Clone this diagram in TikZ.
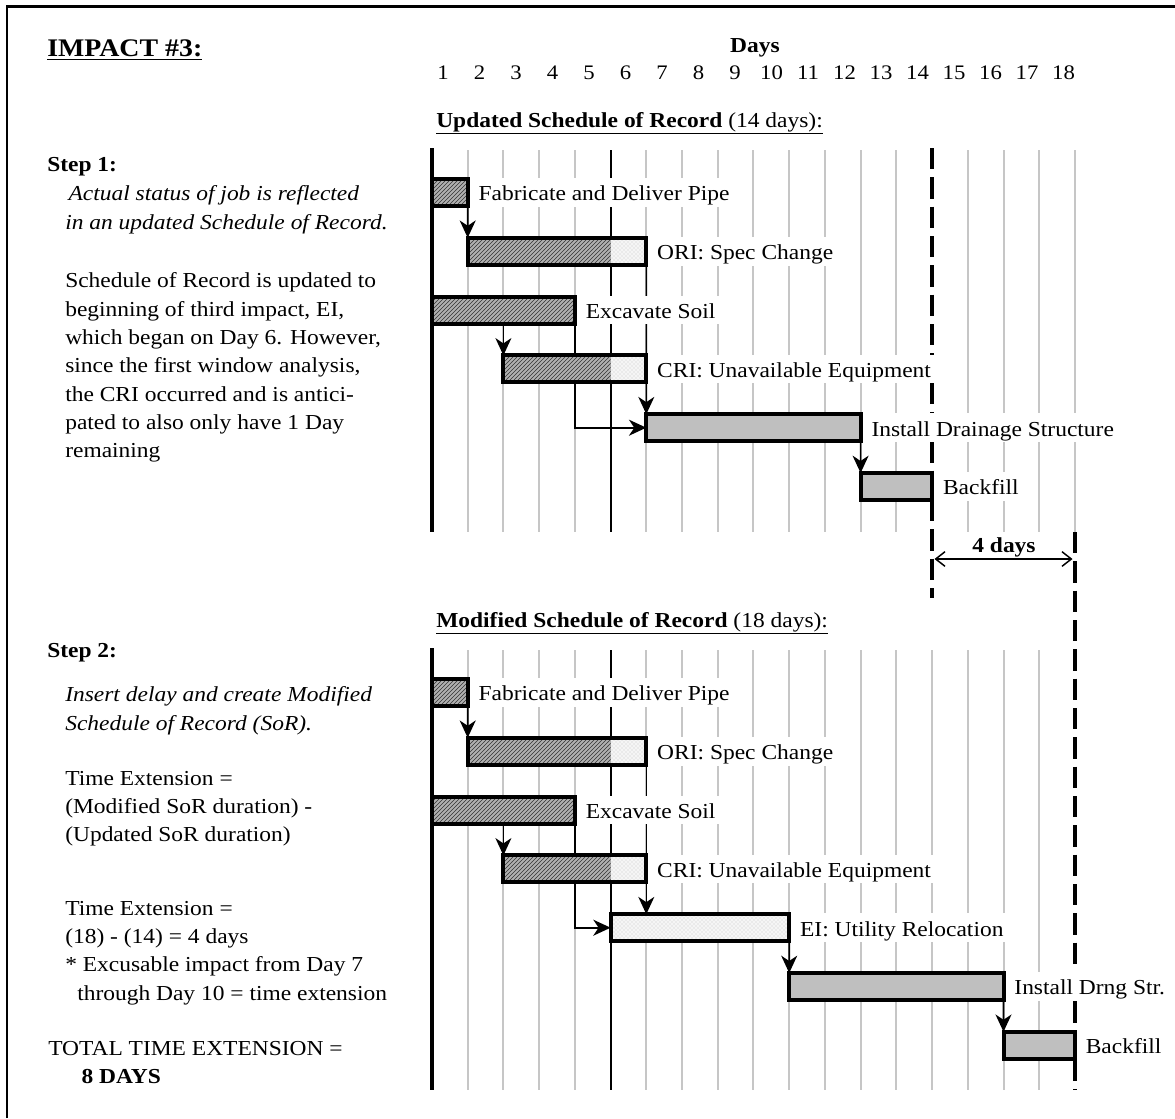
\documentclass[tikz,border=0pt]{standalone}
\usepackage{fontspec}
\setmainfont[FakeStretch=1.1]{Liberation Serif}
\usetikzlibrary{arrows.meta,patterns,positioning}

\pgfdeclarelayer{grid}
\pgfdeclarelayer{links}
\pgfsetlayers{grid,links,main}

\newcommand\bodyfont{\fontsize{16}{21.25}\selectfont}
% stacked lines whose reference point is the first baseline
\newcommand\block[1]{\begin{tabular}[t]{@{}l@{}}#1\end{tabular}}
\renewcommand\arraystretch{1}

% one schedule bar: name, start x, end x, row y, fill style
\newcommand\taskbar[5]{%
  \node[bar,#5,minimum width={0.75pt*(#3-#2)}] (#1) at ({(#2+#3)/2},#4) {};}

\tikzset{
  bar/.style={draw, line width=3pt, minimum height=20.25pt, inner sep=0pt, outer sep=0pt},
  hatchfill/.style={preaction={fill=gray!62}, pattern=north east lines, pattern color=black!80},
  dotfill/.style={preaction={fill=gray!8}, pattern=crosshatch dots, pattern color=gray!45},
  greyfill/.style={fill=gray!50},
  nofill/.style={},
  lbl/.style={fill=white, font=\bodyfont, inner xsep=6pt, inner ysep=0pt,
    text height=17pt, text depth=4.5pt, anchor=west},
  txt/.style={font=\bodyfont, inner sep=0pt, anchor=base west},
  gridline/.style={gray!45, line width=1.5pt},
  dayline/.style={black, line width=1.4pt},
  axis/.style={black, line width=3pt},
  cutoff/.style={black, line width=3pt, dash pattern=on 16pt off 6pt},
  link/.style={line width=1.2pt, -{Stealth[length=13pt,width=12pt,inset=4pt]}},
  span/.style={line width=1.1pt, {Straight Barb[length=7pt,width=11pt]}-{Straight Barb[length=7pt,width=11pt]}},
}

\begin{document}
\begin{tikzpicture}[x=0.75pt,y=-0.75pt]
\useasboundingbox (0,0) rectangle (1175,1118);

% frame
\draw[line width=1.6pt] (7,1118) -- (7,6.5) -- (1175,6.5);

% ---------- headings ----------
\node[txt, font=\fontsize{19}{22}\selectfont\bfseries] (title) at (47,56.7) {\underline{IMPACT \#3:}};
\node[txt, font=\fontsize{16}{20}\selectfont\bfseries, anchor=base] (days) at (755,52) {Days};
\foreach \k in {1,...,18}
  \node[txt, font=\fontsize{15.5}{18}\selectfont, anchor=base] (n\k) at ({443+36.5*(\k-1)},79) {\k};
\node[txt] (updhead) at (436,127) {\underline{\textbf{Updated Schedule of Record} (14 days):}};
\node[txt] (modhead) at (436,627) {\underline{\textbf{Modified Schedule of Record} (18 days):}};

% ---------- explanatory text ----------
\node[txt, font=\bodyfont\bfseries] (step1) at (47,171.7) {Step 1:};
\node[txt, font=\fontsize{16}{21.75}\selectfont\itshape] (step1a) at (65,200)
  {\block{\hspace*{2.5pt}Actual status of job is reflected\\in an updated Schedule of Record.}};
\node[txt] (step1b) at (65,287.7)
  {\block{Schedule of Record is updated to\\beginning of third impact, EI,\\which began on Day 6. However,\\since the first window analysis,\\the CRI occurred and is antici-\\pated to also only have 1 Day\\remaining}};

\node[txt, font=\bodyfont\bfseries] (step2) at (47,657) {Step 2:};
\node[txt, font=\fontsize{16}{21.75}\selectfont\itshape] (step2a) at (65,701.7)
  {\block{Insert delay and create Modified\\Schedule of Record (SoR).}};
\node[txt] (step2b) at (65,785)
  {\block{Time Extension =\\(Modified SoR duration) -\\(Updated SoR duration)}};
\node[txt] (step2c) at (65,915)
  {\block{Time Extension =\\(18) - (14) = 4 days\\{*} Excusable impact from Day 7\\\hspace*{9pt}through Day 10 = time extension}};
\node[txt] (total) at (48,1055)
  {\block{TOTAL TIME EXTENSION =\\\hspace*{25pt}\textbf{8 DAYS}}};

% ---------- day grid ----------
\begin{pgfonlayer}{grid}
  \foreach \k in {2,3,4,5,7,8,9,10,11,12,13,14,16,17,18,19}
    \draw[gridline] ({432+35.72*(\k-1)},150) -- ({432+35.72*(\k-1)},532);
  \foreach \k in {2,3,4,5,7,8,9,10,11,12,13,14,15,16,17,18}
    \draw[gridline] ({432+35.72*(\k-1)},650) -- ({432+35.72*(\k-1)},1090);
  \draw[dayline] (610.6,150) -- (610.6,532);
  \draw[dayline] (610.6,650) -- (610.6,1090);
  \draw[axis] (432,148) -- (432,532);
  \draw[axis] (432,648) -- (432,1090);
  \draw[cutoff] (932.1,148) -- (932.1,598);
  \draw[cutoff] (1074.9,532) -- (1074.9,1090);
\end{pgfonlayer}

% ---------- updated schedule of record ----------
\taskbar{fab}{432}{467.7}{192.5}{hatchfill}
\fill[hatchfill] (467.7,238.3) rectangle (610.6,264.3);
\fill[dotfill] (610.6,238.3) rectangle (646.3,264.3);
\taskbar{ori}{467.7}{646.3}{251.3}{nofill}
\taskbar{exc}{432}{574.9}{310.1}{hatchfill}
\fill[hatchfill] (503.4,355.9) rectangle (610.6,381.9);
\fill[dotfill] (610.6,355.9) rectangle (646.3,381.9);
\taskbar{cri}{503.4}{646.3}{368.9}{nofill}
\taskbar{ids}{646.3}{860.6}{427.7}{greyfill}
\taskbar{bf}{860.6}{932.1}{486.5}{greyfill}

\node[lbl, right=2pt of fab] (fabL) {Fabricate and Deliver Pipe};
\node[lbl, right=2pt of ori] (oriL) {ORI: Spec Change};
\node[lbl, right=2pt of exc] (excL) {Excavate Soil};
\node[lbl, right=2pt of cri] (criL) {CRI: Unavailable Equipment};
\node[lbl, right=2pt of ids] (idsL) {Install Drainage Structure};
\node[lbl, right=2pt of bf] (bfL) {Backfill};

\begin{pgfonlayer}{links}
  \draw[link] (fab.south east) -- (ori.north west);
  \draw[link] (exc.south -| cri.west) -- (cri.north west);
  \draw[link] (ori.south east) -- (ids.north west);
  \draw[link] (exc.south east) |- (ids.west);
  \draw[link] (ids.south east) -- (bf.north west);
\end{pgfonlayer}

% ---------- modified schedule of record ----------
\taskbar{fabm}{432}{467.7}{692.5}{hatchfill}
\fill[hatchfill] (467.7,738.3) rectangle (610.6,764.3);
\fill[dotfill] (610.6,738.3) rectangle (646.3,764.3);
\taskbar{orim}{467.7}{646.3}{751.3}{nofill}
\taskbar{excm}{432}{574.9}{810.1}{hatchfill}
\fill[hatchfill] (503.4,855.9) rectangle (610.6,881.9);
\fill[dotfill] (610.6,855.9) rectangle (646.3,881.9);
\taskbar{crim}{503.4}{646.3}{868.9}{nofill}
\taskbar{eim}{610.6}{789.2}{927.7}{dotfill}
\taskbar{idsm}{789.2}{1003.5}{986.5}{greyfill}
\taskbar{bfm}{1003.5}{1074.9}{1045.3}{greyfill}

\node[lbl, right=2pt of fabm] (fabmL) {Fabricate and Deliver Pipe};
\node[lbl, right=2pt of orim] (orimL) {ORI: Spec Change};
\node[lbl, right=2pt of excm] (excmL) {Excavate Soil};
\node[lbl, right=2pt of crim] (crimL) {CRI: Unavailable Equipment};
\node[lbl, right=2pt of eim] (eimL) {EI: Utility Relocation};
\node[lbl, right=2pt of idsm] (idsmL) {Install Drng Str.};
\node[lbl, right=2pt of bfm] (bfmL) {Backfill};

\begin{pgfonlayer}{links}
  \draw[link] (fabm.south east) -- (orim.north west);
  \draw[link] (excm.south -| crim.west) -- (crim.north west);
  \draw[link] (orim.south east) -- (orim.south east |- eim.north);
  \draw[link] (excm.south east) |- (eim.west);
  \draw[link] (eim.south east) -- (idsm.north west);
  \draw[link] (idsm.south east) -- (bfm.north west);
\end{pgfonlayer}

% ---------- difference between the two schedules ----------
\coordinate (gapA) at (934.5,559);
\coordinate (gapB) at (1072.5,559);
\draw[span] (gapA) -- (gapB);
\node[txt, font=\bodyfont\bfseries, anchor=base] (gapL) at (1004,552) {4 days};

\end{tikzpicture}
\end{document}
